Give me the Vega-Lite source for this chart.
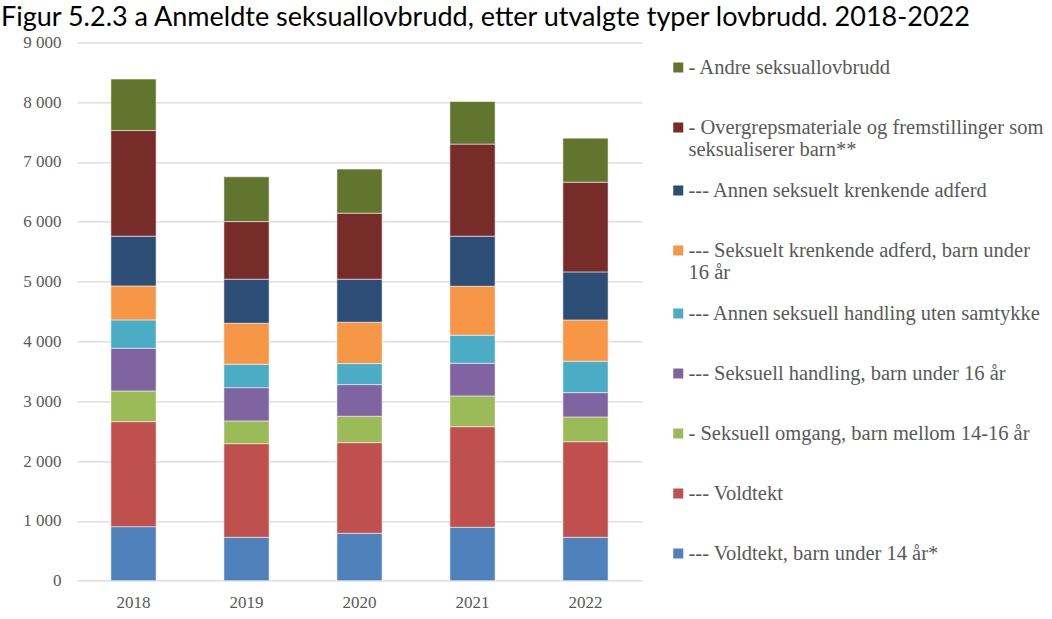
{
  "$schema": "https://vega.github.io/schema/vega-lite/v6.json",
  "autosize": {"type": "none"},
  "width": 565,
  "height": 538.4,
  "padding": {"left": 77, "top": 42.3, "right": 410, "bottom": 38.3},
  "background": "white",
  "title": {
    "text": "Figur 5.2.3 a Anmeldte seksuallovbrudd, etter utvalgte typer lovbrudd. 2018-2022",
    "anchor": "start",
    "frame": "group",
    "orient": "top",
    "baseline": "top",
    "offset": 1,
    "dx": -76,
    "font": "Lato",
    "fontSize": 27,
    "fontWeight": "normal",
    "color": "#000000"
  },
  "data": {
    "values": [
      {"year": "2018", "category": "--- Voldtekt, barn under 14 år*", "rank": 1, "value": 903},
      {"year": "2018", "category": "--- Voldtekt", "rank": 2, "value": 1756},
      {"year": "2018", "category": "- Seksuell omgang, barn mellom 14-16 år", "rank": 3, "value": 513},
      {"year": "2018", "category": "--- Seksuell handling, barn under 16 år", "rank": 4, "value": 714},
      {"year": "2018", "category": "--- Annen seksuell handling uten samtykke", "rank": 5, "value": 473},
      {"year": "2018", "category": "--- Seksuelt krenkende adferd, barn under 16 år", "rank": 6, "value": 569},
      {"year": "2018", "category": "--- Annen seksuelt krenkende adferd", "rank": 7, "value": 831},
      {"year": "2018", "category": "- Overgrepsmateriale og fremstillinger som seksualiserer barn**", "rank": 8, "value": 1766},
      {"year": "2018", "category": "- Andre seksuallovbrudd", "rank": 9, "value": 860},
      {"year": "2019", "category": "--- Voldtekt, barn under 14 år*", "rank": 1, "value": 726},
      {"year": "2019", "category": "--- Voldtekt", "rank": 2, "value": 1565},
      {"year": "2019", "category": "- Seksuell omgang, barn mellom 14-16 år", "rank": 3, "value": 380},
      {"year": "2019", "category": "--- Seksuell handling, barn under 16 år", "rank": 4, "value": 556},
      {"year": "2019", "category": "--- Annen seksuell handling uten samtykke", "rank": 5, "value": 392},
      {"year": "2019", "category": "--- Seksuelt krenkende adferd, barn under 16 år", "rank": 6, "value": 685},
      {"year": "2019", "category": "--- Annen seksuelt krenkende adferd", "rank": 7, "value": 736},
      {"year": "2019", "category": "- Overgrepsmateriale og fremstillinger som seksualiserer barn**", "rank": 8, "value": 963},
      {"year": "2019", "category": "- Andre seksuallovbrudd", "rank": 9, "value": 748},
      {"year": "2020", "category": "--- Voldtekt, barn under 14 år*", "rank": 1, "value": 793},
      {"year": "2020", "category": "--- Voldtekt", "rank": 2, "value": 1515},
      {"year": "2020", "category": "- Seksuell omgang, barn mellom 14-16 år", "rank": 3, "value": 441},
      {"year": "2020", "category": "--- Seksuell handling, barn under 16 år", "rank": 4, "value": 529},
      {"year": "2020", "category": "--- Annen seksuell handling uten samtykke", "rank": 5, "value": 351},
      {"year": "2020", "category": "--- Seksuelt krenkende adferd, barn under 16 år", "rank": 6, "value": 692},
      {"year": "2020", "category": "--- Annen seksuelt krenkende adferd", "rank": 7, "value": 719},
      {"year": "2020", "category": "- Overgrepsmateriale og fremstillinger som seksualiserer barn**", "rank": 8, "value": 1104},
      {"year": "2020", "category": "- Andre seksuallovbrudd", "rank": 9, "value": 736},
      {"year": "2021", "category": "--- Voldtekt, barn under 14 år*", "rank": 1, "value": 893},
      {"year": "2021", "category": "--- Voldtekt", "rank": 2, "value": 1682},
      {"year": "2021", "category": "- Seksuell omgang, barn mellom 14-16 år", "rank": 3, "value": 514},
      {"year": "2021", "category": "--- Seksuell handling, barn under 16 år", "rank": 4, "value": 546},
      {"year": "2021", "category": "--- Annen seksuell handling uten samtykke", "rank": 5, "value": 469},
      {"year": "2021", "category": "--- Seksuelt krenkende adferd, barn under 16 år", "rank": 6, "value": 819},
      {"year": "2021", "category": "--- Annen seksuelt krenkende adferd", "rank": 7, "value": 836},
      {"year": "2021", "category": "- Overgrepsmateriale og fremstillinger som seksualiserer barn**", "rank": 8, "value": 1539},
      {"year": "2021", "category": "- Andre seksuallovbrudd", "rank": 9, "value": 712},
      {"year": "2022", "category": "--- Voldtekt, barn under 14 år*", "rank": 1, "value": 726},
      {"year": "2022", "category": "--- Voldtekt", "rank": 2, "value": 1598},
      {"year": "2022", "category": "- Seksuell omgang, barn mellom 14-16 år", "rank": 3, "value": 413},
      {"year": "2022", "category": "--- Seksuell handling, barn under 16 år", "rank": 4, "value": 407},
      {"year": "2022", "category": "--- Annen seksuell handling uten samtykke", "rank": 5, "value": 525},
      {"year": "2022", "category": "--- Seksuelt krenkende adferd, barn under 16 år", "rank": 6, "value": 690},
      {"year": "2022", "category": "--- Annen seksuelt krenkende adferd", "rank": 7, "value": 803},
      {"year": "2022", "category": "- Overgrepsmateriale og fremstillinger som seksualiserer barn**", "rank": 8, "value": 1500},
      {"year": "2022", "category": "- Andre seksuallovbrudd", "rank": 9, "value": 736}
    ]
  },
  "mark": {"type": "bar", "stroke": "#ffffff", "strokeWidth": 0.75, "strokeOpacity": 0.7},
  "encoding": {
    "x": {
      "field": "year",
      "type": "nominal",
      "scale": {"paddingInner": 0.6, "paddingOuter": 0.3},
      "axis": {
        "title": null,
        "labelAngle": 0,
        "ticks": false,
        "domain": false,
        "labelPadding": 14,
        "labelFont": "Liberation Serif",
        "labelFontSize": 17,
        "labelColor": "#595959"
      }
    },
    "y": {
      "field": "value",
      "type": "quantitative",
      "stack": "zero",
      "scale": {"domain": [0, 9000], "nice": false},
      "axis": {
        "title": null,
        "values": [0, 1000, 2000, 3000, 4000, 5000, 6000, 7000, 8000, 9000],
        "labelExpr": "replace(format(datum.value, ','), ',', ' ')",
        "ticks": false,
        "domain": false,
        "labelPadding": 16,
        "labelFont": "Liberation Serif",
        "labelFontSize": 17,
        "labelColor": "#595959",
        "gridColor": "#d9d9d9",
        "gridWidth": 1.25
      }
    },
    "order": {"field": "rank", "type": "quantitative", "sort": "ascending"},
    "color": {
      "field": "category",
      "type": "nominal",
      "scale": {
        "domain": [
          "- Andre seksuallovbrudd",
          "- Overgrepsmateriale og fremstillinger som seksualiserer barn**",
          "--- Annen seksuelt krenkende adferd",
          "--- Seksuelt krenkende adferd, barn under 16 år",
          "--- Annen seksuell handling uten samtykke",
          "--- Seksuell handling, barn under 16 år",
          "- Seksuell omgang, barn mellom 14-16 år",
          "--- Voldtekt",
          "--- Voldtekt, barn under 14 år*"
        ],
        "range": ["#61752f", "#772c2a", "#2c4d75", "#f79646", "#4bacc6", "#8064a2", "#9bbb59", "#c0504d", "#4f81bd"]
      },
      "legend": {
        "title": null,
        "orient": "none",
        "legendX": 591,
        "legendY": -4.3,
        "padding": 0,
        "symbolType": "square",
        "symbolSize": 100,
        "symbolStrokeWidth": 0,
        "symbolOffset": 0,
        "labelOffset": 0,
        "clipHeight": 59.2,
        "rowPadding": 0,
        "labelFont": "Liberation Serif",
        "labelFontSize": 20.5,
        "labelColor": "#595959",
        "labelLimit": 400,
        "labelBaseline": "middle",
        "labelExpr": "datum.label == '- Overgrepsmateriale og fremstillinger som seksualiserer barn**' ? ['- Overgrepsmateriale og fremstillinger som', 'seksualiserer barn**'] : datum.label == '--- Seksuelt krenkende adferd, barn under 16 år' ? ['--- Seksuelt krenkende adferd, barn under', '16 år'] : datum.label",
        "encode": {
          "labels": {
            "update": {
              "lineHeight": {"value": 23},
              "dy": {"signal": "(datum.label == '- Overgrepsmateriale og fremstillinger som seksualiserer barn**' || datum.label == '--- Seksuelt krenkende adferd, barn under 16 år') ? 11.5 : 0"}
            }
          }
        }
      }
    }
  },
  "config": {
    "view": {"stroke": null}
  }
}
